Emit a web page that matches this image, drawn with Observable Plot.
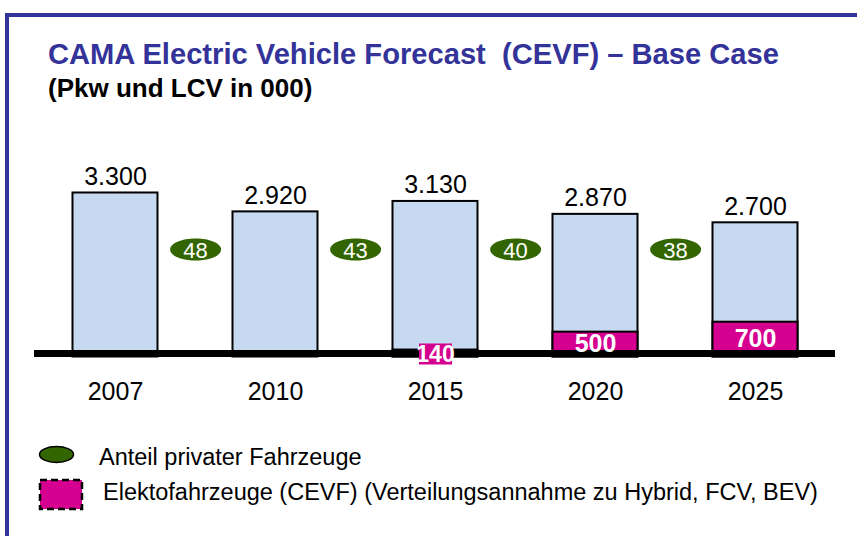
<!DOCTYPE html>
<html><head><meta charset="utf-8">
<script src="https://cdn.jsdelivr.net/npm/d3@7"></script>
<script src="https://cdn.jsdelivr.net/npm/@observablehq/plot@0.6"></script>
<style>
html,body{margin:0;padding:0;background:#fff;}
body{width:857px;height:536px;overflow:hidden;position:relative;font-family:"Liberation Sans",Arial,sans-serif;}
#frame{position:absolute;left:5px;top:13px;width:852px;height:530px;border-top:4px solid #333399;border-left:4px solid #333399;box-sizing:border-box;}
.t{position:absolute;white-space:pre;line-height:1;transform-origin:0 0;}
#title{left:48px;top:39.5px;font-size:29.15px;font-weight:bold;color:#333399;}
#subtitle{left:48px;top:74.5px;font-size:26px;font-weight:bold;color:#000;}
#chart{position:absolute;left:0;top:140px;}
#legendSvg{position:absolute;left:0;top:430px;}
.leg{font-size:23.5px;color:#000;}
</style>
</head><body>
<div id="frame"></div>
<div id="title" class="t"></div>
<div id="subtitle" class="t"></div>
<div id="chart"></div>
<svg id="legendSvg" width="120" height="100"></svg>
<div id="leg0" class="t leg" style="left:99px;top:446.1px;"></div>
<div id="leg1" class="t leg" style="left:103px;top:481.1px;"></div>
<script>
// ---- data ----
const years = ["2007", "2010", "2015", "2020", "2025"];
const totals = [3300, 2920, 3130, 2870, 2700];
const cevfYears = ["2015", "2020", "2025"];
const cevf = [140, 500, 700];
const shareYears = ["2007", "2010", "2015", "2020"];
const share = [48, 43, 40, 38];
const titleText = "CAMA Electric Vehicle Forecast  (CEVF) – Base Case";
const subtitleText = "(Pkw und LCV in 000)";
const legendLabels = ["Anteil privater Fahrzeuge", "Elektofahrzeuge (CEVF) (Verteilungsannahme zu Hybrid, FCV, BEV)"];

// ---- styles ----
const BLUE = "#c6d9f0", MAGENTA = "#d5008f", GREEN = "#336600";

const totalData = years.map((y, i) => ({year: y, value: totals[i]}));
const cevfData = cevfYears.map((y, i) => ({year: y, value: cevf[i]}));
const shareData = shareYears.map((y, i) => ({year: y, value: share[i]}));
const fmt = d3.formatLocale({decimal: ",", thousands: ".", grouping: [3], currency: ["", "€"]}).format(",");

function ellipseSymbol(rx, ry) {
  const k = 0.5523;
  return {draw(ctx) {
    ctx.moveTo(rx, 0);
    ctx.bezierCurveTo(rx, ry * k, rx * k, ry, 0, ry);
    ctx.bezierCurveTo(-rx * k, ry, -rx, ry * k, -rx, 0);
    ctx.bezierCurveTo(-rx, -ry * k, -rx * k, -ry, 0, -ry);
    ctx.bezierCurveTo(rx * k, -ry, rx, -ry * k, rx, 0);
    ctx.closePath();
  }};
}
function rectSymbol(w, h) {
  return {draw(ctx) { ctx.rect(-w / 2, -h / 2, w, h); }};
}

document.getElementById("title").textContent = titleText;
document.getElementById("subtitle").textContent = subtitleText;
document.getElementById("leg0").textContent = legendLabels[0];
document.getElementById("leg1").textContent = legendLabels[1];

const W = 857, ML = 34, MR = 22;
const half = (W - ML - MR) / years.length / 2;
const inset = 37.5;
const small = cevfData.filter(d => d.value < 300);
const big = cevfData.filter(d => d.value >= 300);

const chart = Plot.plot({
  width: W, height: 270,
  marginLeft: ML, marginRight: MR, marginTop: 17.7, marginBottom: 53.5,
  style: {fontFamily: '"Liberation Sans", Arial, sans-serif', fontSize: "25px", color: "#000", background: "transparent", overflow: "visible"},
  x: {domain: years, padding: 0, tickSize: 0, tickPadding: 24.75, label: null},
  y: {domain: [0, 4000], axis: null},
  marks: [
    Plot.barY(totalData, {x: "year", y: "value", fill: BLUE, stroke: "#000", strokeWidth: 2, insetLeft: inset, insetRight: inset}),
    Plot.barY(cevfData, {x: "year", y: "value", fill: MAGENTA, stroke: "#000", strokeWidth: 2, insetLeft: inset, insetRight: inset}),
    Plot.ruleY([0], {stroke: "#000", strokeWidth: 7, dy: -3.5}),
    Plot.text(totalData, {x: "year", y: "value", text: d => fmt(d.value), dy: -16, fontSize: 25, fill: "#000"}),
    Plot.text(big, {x: "year", y: d => d.value / 2, text: d => String(d.value), dy: -1, fontSize: 25, fontWeight: "bold", fill: "white"}),
    Plot.dot(small, {x: "year", y: d => d.value / 2, dy: 0.5, symbol: rectSymbol(33, 21), fill: MAGENTA, stroke: "none"}),
    Plot.text(small, {x: "year", y: d => d.value / 2, text: d => String(d.value), dy: 1, fontSize: 23, fontWeight: "bold", fill: "white"}),
    Plot.dot(shareData, {x: "year", frameAnchor: "middle", dx: half, dy: -8, symbol: ellipseSymbol(25.5, 11), fill: GREEN, stroke: "none"}),
    Plot.text(shareData, {x: "year", frameAnchor: "middle", dx: half, dy: -7, text: d => String(d.value), fontSize: 22, fill: "white"})
  ]
});
document.getElementById("chart").appendChild(chart);

// legend swatches
const lg = d3.select("#legendSvg");
lg.append("ellipse").attr("cx", 56.5).attr("cy", 24.5).attr("rx", 17).attr("ry", 8)
  .attr("fill", GREEN).attr("stroke", "#000").attr("stroke-width", 1.5);
lg.append("rect").attr("x", 40).attr("y", 50).attr("width", 42).attr("height", 29)
  .attr("fill", MAGENTA).attr("stroke", "#000").attr("stroke-width", 2.5).attr("stroke-dasharray", "7,4");
</script>
</body></html>
